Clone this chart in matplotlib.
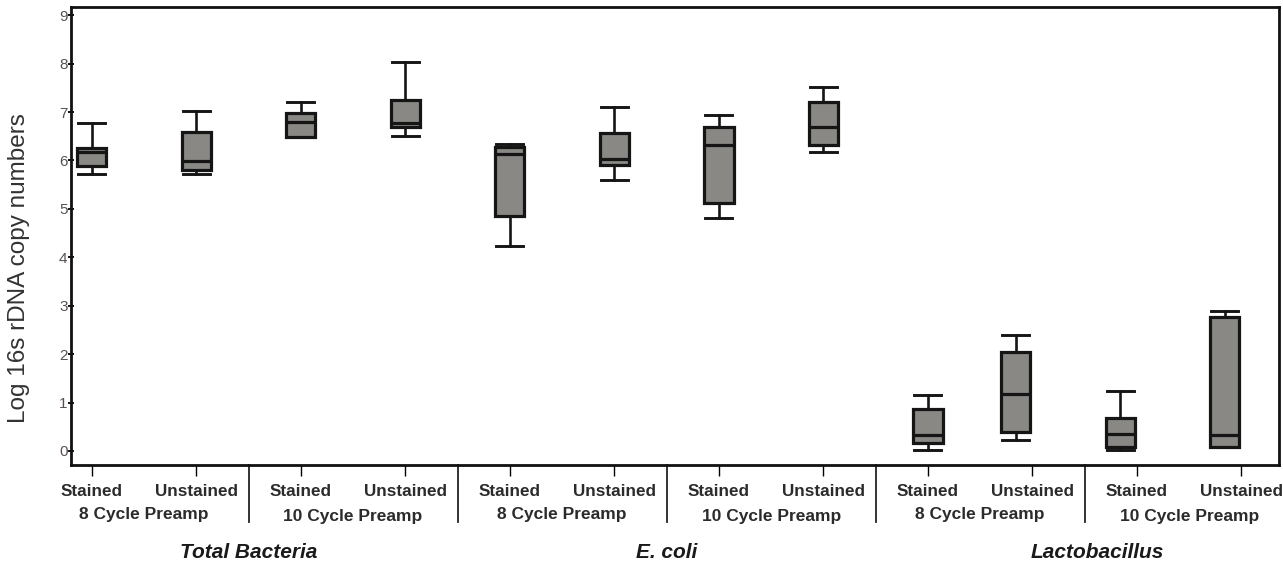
import matplotlib.pyplot as plt
import numpy as np

# Arial-like font for everything
plt.rcParams['font.family'] = ['Liberation Sans', 'DejaVu Sans']

# Group / sub-group labels
groups = ['Total Bacteria', 'E. coli', 'Lactobacillus']
preamps = ['8 Cycle Preamp', '10 Cycle Preamp']
stain_labels = ['Stained', 'Unstained'] * 6

# Box statistics (log 16s rDNA copy numbers)
# order: TB 8 S/U, TB 10 S/U, E.coli 8 S/U, E.coli 10 S/U, Lacto 8 S/U, Lacto 10 S/U
whislo = [5.71, 5.71, 6.48, 6.50, 4.24, 5.59, 4.81, 6.17, 0.03, 0.23, 0.01, 0.08]
q1     = [5.89, 5.80, 6.48, 6.69, 4.86, 5.90, 5.13, 6.32, 0.16, 0.39, 0.08, 0.08]
med    = [6.18, 5.99, 6.80, 6.77, 6.13, 6.02, 6.31, 6.69, 0.33, 1.18, 0.35, 0.32]
q3     = [6.25, 6.59, 6.97, 7.25, 6.28, 6.56, 6.69, 7.21, 0.86, 2.05, 0.68, 2.77]
whishi = [6.78, 7.03, 7.20, 8.03, 6.35, 7.11, 6.93, 7.52, 1.15, 2.39, 1.23, 2.89]

stats = []
for lo, a, m, b, hi in zip(whislo, q1, med, q3, whishi):
    stats.append(dict(whislo=lo, q1=a, med=m, q3=b, whishi=hi, fliers=[]))

fig = plt.figure(figsize=(12.83, 5.67), dpi=100)
ax = fig.add_axes([0.0553, 0.1799, 0.9416, 0.8078])

positions = np.arange(len(stats), dtype=float)
# the last three lactobacillus boxes sit a bit left of their ticks in the original
box_pos = positions.copy()
box_pos[9:] -= 0.16

edge = '#151515'
ax.bxp(stats, positions=box_pos, widths=0.28, capwidths=0.26, showfliers=False,
       patch_artist=True,
       boxprops=dict(facecolor='#8a8884', edgecolor=edge, linewidth=2.3),
       whiskerprops=dict(color=edge, linewidth=1.9),
       capprops=dict(color=edge, linewidth=2.1),
       medianprops=dict(color=edge, linewidth=2.3))

ax.set_xlim(-0.2, 11.36)
ax.set_ylim(-0.29, 9.17)

ax.set_yticks(range(10))
ax.set_xticks(positions)
ax.set_xticklabels(stain_labels, fontsize=12.3, fontweight='bold', color='#2b2b2b')

for spine in ax.spines.values():
    spine.set_linewidth(2.0)
    spine.set_color('#111111')

ax.tick_params(axis='y', direction='inout', length=5, width=1.3, pad=0,
               labelsize=11, labelcolor='#5a5050')
ax.tick_params(axis='x', direction='out', length=8, width=1, pad=6)

# vertical separators between the preamp groups
trans = ax.get_xaxis_transform()
for x in np.arange(1.5, 10, 2):
    ax.plot([x, x], [0, -0.125], transform=trans, color='#222222', lw=1.3, clip_on=False)

# preamp labels
for i in range(6):
    y = -0.107 if i % 2 == 0 else -0.113
    ax.text(2 * i + 0.5, y, preamps[i % 2], transform=trans, ha='center', va='center',
            fontsize=12.5, fontweight='bold', color='#2b2b2b')

# organism labels
for j, g in enumerate(groups):
    x = 4 * j + 1.5 + (0.12 if j == 2 else 0.0)
    ax.text(x, -0.192, g, transform=trans, ha='center', va='center',
            fontsize=15, fontweight='bold', fontstyle='italic', color='#1a1a1a')

fig.text(0.015, 1 - 268 / 567, 'Log 16s rDNA copy numbers', rotation=90,
         fontsize=17.5, color='#333333', ha='center', va='center')

fig.savefig('out.png', dpi=100)
